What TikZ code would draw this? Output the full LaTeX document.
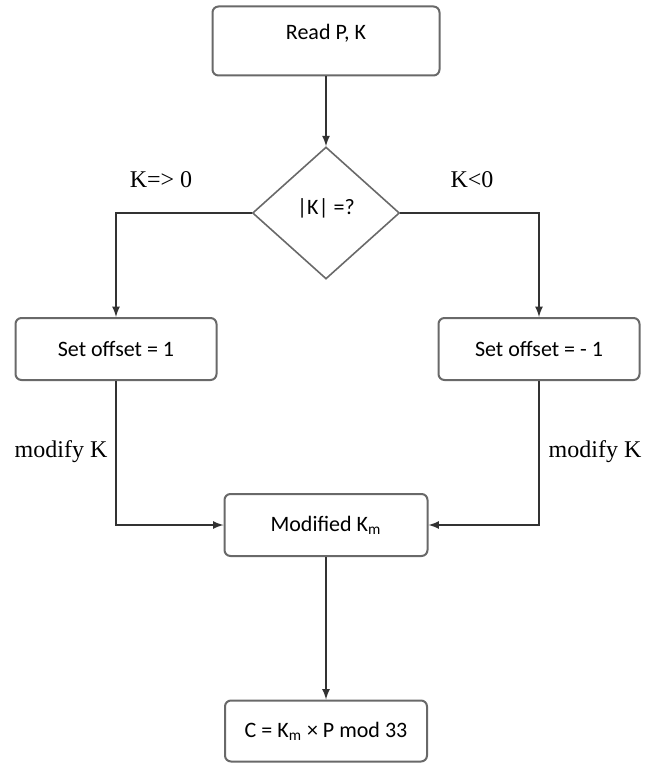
\documentclass[tikz,border=0pt]{standalone}
\usepackage{fontspec}
\setmainfont{Liberation Serif}
\newfontfamily\boxfont{Carlito}
\usepackage{tikz}
\usetikzlibrary{shapes.geometric}
\usetikzlibrary{calc,arrows}
\definecolor{boxgray}{RGB}{105,105,105}
\definecolor{linegray}{RGB}{50,50,50}

\begin{document}
\begin{tikzpicture}
	[   x=0.5pt,y=-0.5pt,
		bnode/.style={draw=boxgray,line width=1pt,rounded corners=3pt,fill=white,minimum width=#1,minimum height=31pt,inner sep=2pt,font=\boxfont\fontsize{11}{13}\selectfont},
		dnode/.style={draw=boxgray,line width=0.8pt,diamond,aspect=1.11,minimum width=73.5pt,minimum height=66pt,inner sep=0pt,font=\boxfont\fontsize{11}{13}\selectfont},
		lbl/.style={font=\fontsize{12}{14}\selectfont},
	]
	\tikzset{normal arrow/.style={draw=linegray,line width=0.8pt,-latex}}
	\useasboundingbox (0,0) rectangle (644,765);

	\node[bnode=113.5pt,minimum height=34.5pt,text depth=9pt] (read) at (326,41) {Read P, K};
	\node[dnode,text depth=6pt] (cond) at (326,213) {|K| =?};

	\node[bnode=100.5pt] (off-1) at (116,349) {Set offset = 1};
	\node[bnode=100.5pt] (off-2) at (539,349) {Set offset = - 1};

	\node[bnode=101.5pt] (km) at (326,525) {Modified K\textsubscript{m}};
	\node[bnode=101pt,minimum height=30.5pt] (out) at (326,731) {C = K\textsubscript{m} × P mod 33};

	\node[lbl] (l-1) at (161,180) {K=> 0};
	\node[lbl] (l-2) at (472,180) {K<0};
	\node[lbl] (m-1) at (61,452) {modify K};
	\node[lbl] (m-2) at (595,452) {modify K};

	\path[normal arrow] (read) -- (cond);

	\foreach \s/\x in {west/1,east/2}
	{
		\path[normal arrow] (cond.\s) -| (off-\x);
		\path[normal arrow] (off-\x) |- (km.\s);
	}

	\path[normal arrow] (km) -- (out);
\end{tikzpicture}
\end{document}
